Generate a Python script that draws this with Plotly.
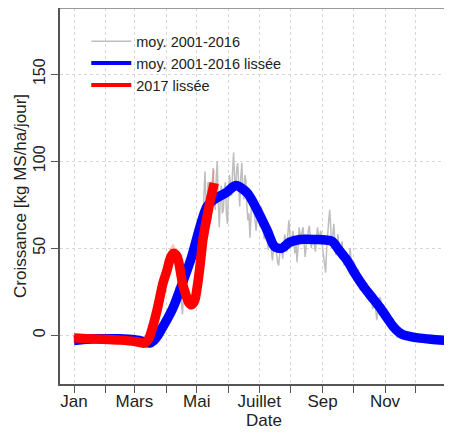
import plotly.graph_objects as go

# ---- data (day of year, value in kg MS/ha/jour) ----
month_days = [1, 32, 60, 91, 121, 152, 182, 213, 244, 274, 305, 335]
month_labels = ["Jan", "", "Mars", "", "Mai", "", "Juillet", "", "Sep", "", "Nov", ""]

gray_pts = [
    (1, -3.0), (3, -2.6), (5, -3.2), (7, -2.4), (9, -2.8), (11, -2.2), (13, -2.6), (15, -2.0),
    (17, -2.5), (19, -1.8), (21, -2.3), (23, -2.0), (25, -2.4), (27, -1.7), (29, -2.2), (31, -1.9),
    (33, -2.5), (35, -1.8), (37, -2.1), (39, -2.4), (41, -1.7), (43, -2.2), (45, -2.0), (47, -2.6),
    (49, -1.9), (51, -2.3), (53, -2.1), (55, -2.7), (57, -2.0), (59, -2.4),
    (61, -2.0), (63, -3.4), (65, -2.6), (67, -4.0), (69, -3.2), (71, -4.8), (73, -3.6), (75, -5.2),
    (77, -3.8), (79, -2.2), (81, -2.5), (83, 1.5), (85, 0.5), (87, 5.5), (89, 4.0),
    (91, 10), (93, 6), (95, 14), (97, 11), (99, 20), (101, 28), (103, 18), (105, 25), (107, 12),
    (109, 33), (111, 30), (113, 42), (115, 38), (117, 50), (119, 44),
    (121, 56), (122, 62), (123, 52), (124, 70), (125, 66), (126, 60), (127, 58), (128, 80),
    (129, 94), (130, 78), (131, 70), (132, 88), (133, 84), (134, 74), (135, 66), (136, 82),
    (137, 96), (138, 80), (139, 72), (140, 90), (141, 100), (142, 76), (143, 62), (144, 78),
    (145, 86), (146, 70), (147, 72), (148, 84), (149, 88), (150, 70), (151, 64), (152, 82),
    (153, 92), (154, 86), (155, 80), (156, 94), (157, 105), (158, 90), (159, 84), (160, 95),
    (161, 99), (162, 86), (163, 74), (164, 90), (165, 99), (166, 84), (167, 78), (168, 92),
    (169, 89), (170, 74), (171, 66), (172, 70), (173, 56), (174, 68), (175, 80), (176, 76),
    (177, 72), (178, 66), (179, 60), (180, 70), (181, 76), (182, 68), (183, 64), (184, 74),
    (185, 70), (186, 60), (187, 55), (188, 66), (189, 62), (190, 54), (191, 49), (192, 56),
    (193, 58), (194, 48), (195, 43), (196, 50), (197, 55), (198, 52), (199, 46), (200, 42),
    (201, 40), (202, 47), (203, 52), (204, 50), (205, 44), (206, 52), (207, 58), (208, 54),
    (209, 48), (210, 58), (211, 66), (212, 58), (213, 52), (214, 56), (215, 60), (216, 52),
    (217, 47), (218, 54), (219, 42), (220, 50), (221, 62), (222, 58), (223, 56), (224, 60),
    (225, 62), (226, 52), (227, 45), (228, 52), (229, 58), (230, 60), (231, 63), (232, 56),
    (233, 50), (234, 55), (235, 57), (236, 52), (237, 48), (238, 56), (239, 62), (240, 58),
    (241, 54), (242, 60), (243, 58), (244, 50), (245, 44), (246, 40), (247, 36), (248, 50),
    (249, 60), (250, 66), (251, 72), (252, 60), (253, 50), (254, 58), (255, 64), (256, 54),
    (257, 46), (258, 52), (259, 58), (260, 50), (261, 44), (262, 50), (263, 54), (264, 46),
    (265, 40), (266, 46), (267, 48), (268, 42), (269, 38), (270, 44), (271, 50), (272, 42),
    (273, 36), (274, 40), (275, 42), (276, 36), (277, 30), (278, 34), (279, 38), (280, 30),
    (281, 26), (282, 30), (283, 32), (284, 28), (285, 24), (286, 28), (287, 30), (288, 24),
    (289, 20), (290, 24), (291, 26), (292, 20), (293, 15), (294, 18), (295, 22), (296, 14),
    (297, 9), (298, 14), (299, 18), (300, 22), (301, 20), (302, 16), (303, 13), (304, 10),
    (305, 8),
    (307, 12), (309, 6), (311, 7), (313, 3), (315, 5), (317, -1.5),
    (319, 2.5), (321, -0.5), (323, 1.0), (325, -1.0), (327, 0.5), (329, -1.2), (331, -0.3),
    (333, -1.6), (335, -0.9), (337, -1.8), (339, -1.2), (341, -2.1), (343, -1.5), (345, -2.3),
    (347, -1.7), (349, -2.5), (351, -2.0), (353, -2.6), (355, -2.2), (357, -2.8), (359, -2.4),
    (361, -3.0), (363, -2.6), (365, -3.1),
]
gray_day = [p[0] for p in gray_pts]
gray_val = [p[1] for p in gray_pts]

blue_day = [1, 10, 20, 32, 45, 60, 68, 75, 79, 83, 87, 91, 98, 107, 116, 124, 131, 138, 150,
            159, 170, 180, 190, 197, 204, 212, 222, 235, 253, 260, 268, 276, 284, 292, 300,
            307, 313, 318, 323, 330, 337, 350, 365]
blue_val = [-3, -2.5, -2, -2, -2, -2.5, -3.5, -4.5, -3, 0, 4, 8, 16, 30, 45, 62, 74, 78, 82,
            86, 82, 72, 60, 51, 50, 53.5, 55, 55, 54, 49, 43, 35, 28, 22, 16,
            10, 5, 2, 0.2, -0.8, -1.5, -2.3, -3]

red_day = [1, 15, 30, 46, 60, 70, 74, 78, 82, 85, 88, 92, 95, 98, 101, 103, 107, 110, 113,
           116, 119, 121, 124, 127, 131, 134, 136, 138]
red_val = [-1.5, -2, -2.3, -2.8, -3.5, -4.5, -2, 5, 14, 22, 30, 37.5, 44, 47, 46, 43, 30, 24,
           19, 17.5, 20, 26, 39, 55, 68, 77, 82, 87.5]

raw17_day = [70, 72, 74, 76, 78, 80, 82, 84, 86, 88, 90, 92, 94, 96, 98, 100, 102, 104, 106,
             108, 110, 112, 114, 116, 118, 120, 122, 124, 126, 128, 130, 132, 134, 136, 138]
raw17_val = [-4, -3, -1, 2, 6, 10, 15, 20, 26, 31, 35, 39, 45, 50, 52, 48, 44, 38, 32,
             27, 24, 20, 18, 17, 19, 24, 31, 40, 50, 60, 67, 72, 79, 86, 95]

y_ticks = [0, 50, 100, 150]

FONT = "Liberation Sans, Arial, sans-serif"

fig = go.Figure()
fig.add_trace(go.Scatter(x=gray_day, y=gray_val, mode="lines",
                         line=dict(color="#BEBEBE", width=1.5), showlegend=False))
fig.add_trace(go.Scatter(x=blue_day, y=blue_val, mode="lines",
                         line=dict(color="#0000FF", width=9.5, shape="spline", smoothing=0.8),
                         showlegend=False))
fig.add_trace(go.Scatter(x=raw17_day, y=raw17_val, mode="lines",
                         line=dict(color="rgba(255,90,90,0.35)", width=2), showlegend=False))
fig.add_trace(go.Scatter(x=red_day, y=red_val, mode="lines",
                         line=dict(color="#FF0000", width=9.5, shape="spline", smoothing=0.8),
                         showlegend=False))

# legend entries
fig.add_trace(go.Scatter(x=[None], y=[None], mode="lines", name="moy. 2001-2016",
                         line=dict(color="#BEBEBE", width=1.5)))
fig.add_trace(go.Scatter(x=[None], y=[None], mode="lines", name="moy. 2001-2016 lissée",
                         line=dict(color="#0000FF", width=4)))
fig.add_trace(go.Scatter(x=[None], y=[None], mode="lines", name="2017 lissée",
                         line=dict(color="#FF0000", width=4)))

# page body has an 8px margin: the figure is 444x427 so it fits the 452x435 window
fig.update_layout(
    width=444, height=427,
    margin=dict(l=52, r=0, t=0, b=51, autoexpand=False),
    paper_bgcolor="white", plot_bgcolor="white",
    font=dict(family=FONT, color="#222", size=16),
    showlegend=True,
    legend=dict(x=0.067, y=0.954, xanchor="left", yanchor="top",
                bgcolor="rgba(0,0,0,0)", font=dict(size=14.5, family=FONT),
                tracegroupgap=0, itemwidth=40),
    xaxis=dict(range=[-12.7, 370.5], tickmode="array", tickvals=month_days,
               ticktext=month_labels, ticks="outside", ticklen=7, tickcolor="#555",
               showline=True, linecolor="#555", linewidth=1.5, automargin=False,
               ticklabelstandoff=-6,
               showgrid=True, gridcolor="#D6D6D6", griddash="dot", gridwidth=1,
               zeroline=False, tickfont=dict(size=17)),
    yaxis=dict(range=[-28, 188], tickmode="array", tickvals=y_ticks,
               ticks="outside", ticklen=7, tickcolor="#555", tickangle=-90,
               showline=True, linecolor="#555", linewidth=1.5, automargin=False,
               showgrid=True, gridcolor="#D6D6D6", griddash="dot", gridwidth=1,
               zeroline=False, tickfont=dict(size=16)),
    shapes=[dict(type="line", xref="paper", yref="paper", x0=0, x1=1, y0=1, y1=1,
                 line=dict(color="#999", width=2))],
    annotations=[
        dict(text="Date", xref="paper", yref="paper", x=0.52, y=-0.098, showarrow=False,
             xanchor="center", yanchor="middle", font=dict(size=17)),
        dict(text="Croissance [kg MS/ha/jour]", xref="paper", yref="paper",
             x=-0.102, y=0.5, showarrow=False, textangle=-90, xanchor="center",
             yanchor="middle", font=dict(size=17)),
    ],
)

fig.write_html("out.html")
